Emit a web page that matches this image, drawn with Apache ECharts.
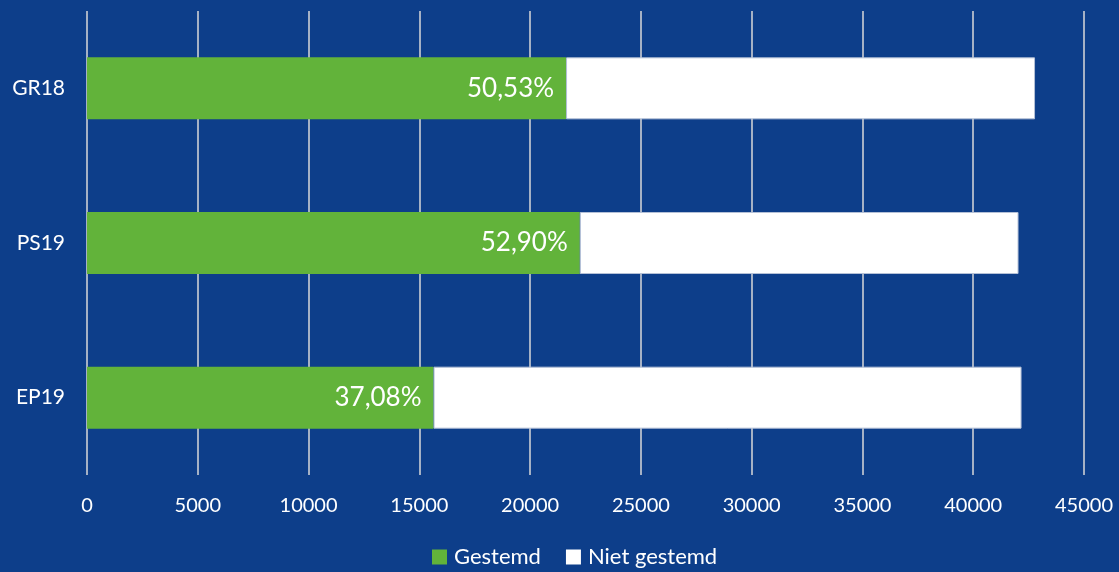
<!DOCTYPE html>
<html><head><meta charset="utf-8">
<script src="https://cdn.jsdelivr.net/npm/echarts@6/dist/echarts.min.js"></script>
<style>html,body{margin:0;padding:0;background:#0D3E8A;}#c{width:1119px;height:572px;}</style>
</head><body><div id="c"></div>
<script>
var categories = ['EP19', 'PS19', 'GR18'];
var gestemd = [15641, 22242, 21622];
var nietGestemd = [26540, 19803, 21168];
var pctLabels = ['37,08%', '52,90%', '50,53%'];
var xTicks = [0, 5000, 10000, 15000, 20000, 25000, 30000, 35000, 40000, 45000];

var chart = echarts.init(document.getElementById('c'));
var font = 'Lato, "Open Sans", sans-serif';
chart.setOption({
  backgroundColor: '#0D3E8A',
  animation: false,
  grid: {left: 87, right: 35, top: 11, bottom: 97, containLabel: false},
  legend: {
    bottom: -1, left: 427, itemWidth: 15, itemHeight: 15, itemGap: 25,
    icon: 'rect',
    textStyle: {color: '#ffffff', fontSize: 22, fontFamily: font, padding: [0,0,0,2]},
    data: [
      {name: 'Gestemd'},
      {name: 'Niet gestemd', itemStyle: {borderWidth: 0}}
    ]
  },
  xAxis: {
    type: 'value', min: xTicks[0], max: xTicks[xTicks.length-1], interval: 5000,
    axisLine: {show: false}, axisTick: {show: false},
    splitLine: {show: true, lineStyle: {color: '#D9D9D9', width: 1.5}},
    axisLabel: {color: '#ffffff', fontSize: 20, fontFamily: font, margin: 21,
      formatter: function (v) { return String(v); }}
  },
  yAxis: {
    type: 'category', data: categories,
    axisLine: {show: false}, axisTick: {show: false},
    axisLabel: {color: '#ffffff', fontSize: 21, fontFamily: font, margin: 22}
  },
  series: [
    {
      name: 'Gestemd', type: 'bar', stack: 't', data: gestemd, barWidth: 62,
      itemStyle: {color: '#62B33A'},
      label: {
        show: true, position: 'insideRight', distance: 12, color: '#ffffff',
        fontSize: 26, fontFamily: font,
        formatter: function (p) { return pctLabels[p.dataIndex]; }
      }
    },
    {
      name: 'Niet gestemd', type: 'bar', stack: 't', data: nietGestemd, barWidth: 62,
      itemStyle: {color: '#ffffff', borderColor: '#B4C0D6', borderWidth: 1}
    }
  ]
});
</script></body></html>
